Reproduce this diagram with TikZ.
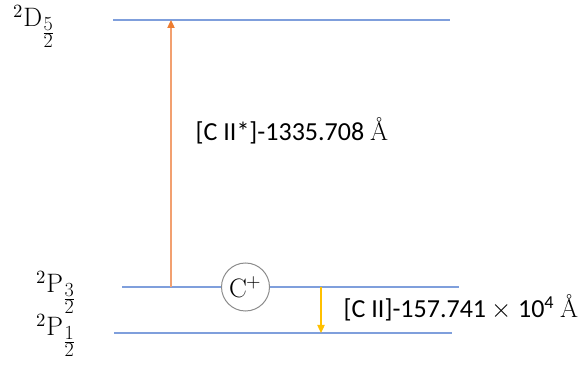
\documentclass[tikz,border=0pt]{standalone}
\usepackage{fontspec}
\usepackage{unicode-math}
\setmathfont{Latin Modern Math}
\newfontfamily\calibrifont{Carlito}
\usetikzlibrary{arrows.meta}

\definecolor{levelblue}{HTML}{7F9FDC}
\definecolor{lineorange}{HTML}{F2A070}
\definecolor{tiporange}{HTML}{ED7D31}
\definecolor{lineyellow}{HTML}{FFC000}

% 項の記号の分数
\newcommand{\termfrac}[2]{\frac{\mbox{\fontsize{15}{15}\selectfont #1}}{\mbox{\fontsize{15}{15}\selectfont #2}}}

\tikzset{
    level line/.style={
      draw=levelblue,
      line width=0.8pt
    },
    ion circle/.style={
      circle,
      draw=black!45,
      line width=0.75pt,
      minimum size=36pt,
      inner sep=0pt,
      font=\fontsize{20}{24}\selectfont
    },
    term label/.style={
      anchor=base west,
      inner sep=0pt,
      font=\fontsize{20}{24}\selectfont
    },
    line label/.style={
      anchor=west,
      font=\calibrifont\fontsize{19.5}{23}\selectfont
    },
    up arrow/.style={
      draw=lineorange,
      line width=0.9pt,
      -{Triangle[length=6pt,width=5.5pt,color=tiporange]}
    },
    down arrow/.style={
      draw=lineyellow,
      line width=0.9pt,
      -{Triangle[length=6pt,width=5.5pt,color=lineyellow]}
    }
  }

\begin{document}
\begin{tikzpicture}[x=0.75pt,y=-0.75pt]
      \useasboundingbox (0,0) rectangle (578,366);

      % 準位
      \coordinate (d left) at (113,20);
      \coordinate (d right) at (450,20);
      \coordinate (p3 left) at (122,287);
      \coordinate (p3 right) at (459,287);
      \coordinate (p1 left) at (114,333);
      \coordinate (p1 right) at (452,333);
      \node[ion circle] (ion) at (245.5,287) {C$^{+}$};
      \draw[level line] (d left) -- (d right);
      \draw[level line] (p3 left) -- (ion.west);
      \draw[level line] (ion.east) -- (p3 right);
      \draw[level line] (p1 left) -- (p1 right);

      % 遷移
      \coordinate (up start) at (171,287);
      \coordinate (up end) at (171,20);
      \coordinate (down start) at (321,287);
      \coordinate (down end) at (321,333);
      \draw[up arrow] (up start) -- (up end);
      \draw[down arrow] (down start) -- (down end);

      % ラベル
      \node[term label] (d term) at (13,27) {$^{2}\mathrm{D}_{\termfrac{5}{2}}$};
      \node[term label] (p3 term) at (36,293) {$^{2}\mathrm{P}_{\termfrac{3}{2}}$};
      \node[term label] (p1 term) at (36,336) {$^{2}\mathrm{P}_{\termfrac{1}{2}}$};
      \node[line label] (up label) at (191,131) {[C II*]-1335.708 {\rmfamily Å}};
      \node[line label] (down label) at (339,308) {[C II]-157.741 {\rmfamily$\times$} 10\textsuperscript{4} {\rmfamily Å}};
    \end{tikzpicture}
\end{document}
